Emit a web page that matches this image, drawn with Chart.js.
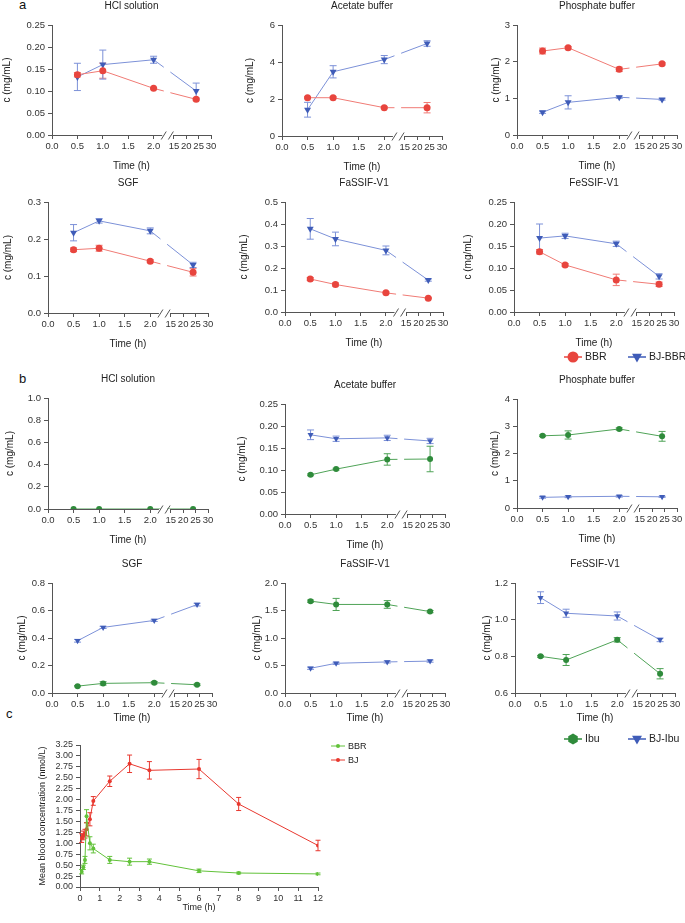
<!DOCTYPE html>
<html>
<head>
<meta charset="utf-8">
<script src="https://cdn.jsdelivr.net/npm/chart.js@4.4.1/dist/chart.umd.min.js"></script>
<style>
  body { margin: 0; background: #fff; width: 685px; height: 923px; position: relative; overflow: hidden;
         font-family: "Liberation Sans", Arial, sans-serif; }
  canvas { position: absolute; }
  .lab { position: absolute; font-size: 13px; color: #111; line-height: 13px; }
</style>
</head>
<body>
<div class="lab" style="left:19px;top:-2px">a</div>
<div class="lab" style="left:19px;top:372px">b</div>
<div class="lab" style="left:6px;top:707px">c</div>
<script>
// ---- shared x axis (broken axis: 0-2 h, then 15-30 h) ----
const hours = [0.5, 1, 2, 24];
const xTickHours = [0, 0.5, 1, 1.5, 2, 15, 20, 25, 30];
const xTickLabels = ["0.0", "0.5", "1.0", "1.5", "2.0", "15", "20", "25", "30"];

// ---- panel a : BBR vs BJ-BBR (mg/mL) ----
const aHclBBR = [0.137, 0.146, 0.106, 0.081];
const aHclBBRsd = [0.005, 0.017, 0.002, 0.003];
const aHclBJ = [0.132, 0.160, 0.171, 0.100];
const aHclBJsd = [0.031, 0.033, 0.008, 0.018];

const aAceBBR = [2.07, 2.07, 1.53, 1.53];
const aAceBBRsd = [0.05, 0.05, 0.05, 0.28];
const aAceBJ = [1.42, 3.47, 4.13, 5.00];
const aAceBJsd = [0.40, 0.33, 0.22, 0.15];

const aPhoBBR = [2.29, 2.38, 1.79, 1.94];
const aPhoBBRsd = [0.08, 0.03, 0.06, 0.03];
const aPhoBJ = [0.62, 0.89, 1.03, 0.97];
const aPhoBJsd = [0.03, 0.18, 0.03, 0.02];

const aSgfBBR = [0.171, 0.175, 0.140, 0.110];
const aSgfBBRsd = [0.005, 0.008, 0.004, 0.010];
const aSgfBJ = [0.217, 0.249, 0.222, 0.130];
const aSgfBJsd = [0.022, 0.006, 0.008, 0.007];

const aFasBBR = [0.150, 0.125, 0.087, 0.063];
const aFasBBRsd = [0.007, 0.007, 0.004, 0.003];
const aFasBJ = [0.378, 0.332, 0.280, 0.145];
const aFasBJsd = [0.047, 0.031, 0.020, 0.005];

const aFesBBR = [0.137, 0.107, 0.073, 0.063];
const aFesBBRsd = [0.005, 0.003, 0.013, 0.005];
const aFesBJ = [0.168, 0.173, 0.155, 0.081];
const aFesBJsd = [0.032, 0.006, 0.006, 0.006];

// ---- panel b : Ibu vs BJ-Ibu (mg/mL) ----
const bHclIbu = [0, 0, 0, 0];
const bHclIbusd = [0, 0, 0, 0];

const bAceIbu = [0.089, 0.102, 0.124, 0.125];
const bAceIbusd = [0.002, 0.002, 0.013, 0.029];
const bAceBJ = [0.180, 0.171, 0.173, 0.166];
const bAceBJsd = [0.011, 0.006, 0.006, 0.006];

const bPhoIbu = [2.65, 2.68, 2.90, 2.63];
const bPhoIbusd = [0.03, 0.15, 0.04, 0.18];
const bPhoBJ = [0.39, 0.41, 0.43, 0.41];
const bPhoBJsd = [0.03, 0.03, 0.03, 0.02];

const bSgfIbu = [0.050, 0.070, 0.075, 0.060];
const bSgfIbusd = [0.005, 0.012, 0.008, 0.006];
const bSgfBJ = [0.380, 0.477, 0.528, 0.643];
const bSgfBJsd = [0.010, 0.008, 0.008, 0.010];

const bFasIbu = [1.67, 1.61, 1.61, 1.48];
const bFasIbusd = [0.02, 0.11, 0.07, 0.02];
const bFasBJ = [0.45, 0.54, 0.565, 0.58];
const bFasBJsd = [0.02, 0.02, 0.02, 0.02];

const bFesIbu = [0.800, 0.780, 0.890, 0.705];
const bFesIbusd = [0.005, 0.030, 0.012, 0.028];
const bFesBJ = [1.120, 1.035, 1.020, 0.890];
const bFesBJsd = [0.032, 0.022, 0.022, 0.010];

// ---- panel c : mean blood concentration (nmol/L) ----
const cTimes = [0.083, 0.167, 0.25, 0.33, 0.5, 0.67, 1.5, 2.5, 3.5, 6, 8, 12];
const cBBR = [0.35, 0.45, 0.62, 1.62, 1.00, 0.88, 0.62, 0.58, 0.58, 0.37, 0.32, 0.30];
const cBBRsd = [0.05, 0.05, 0.08, 0.15, 0.15, 0.10, 0.08, 0.08, 0.06, 0.04, 0.02, 0.02];
const cBJ = [1.12, 1.18, 1.22, 1.32, 1.55, 1.97, 2.42, 2.82, 2.67, 2.70, 1.90, 0.95];
const cBJsd = [0.10, 0.10, 0.10, 0.15, 0.15, 0.10, 0.12, 0.20, 0.20, 0.22, 0.15, 0.12];
const cXTicks = [0, 1, 2, 3, 4, 5, 6, 7, 8, 9, 10, 11, 12];

const FONT = '"Liberation Sans", Arial, sans-serif';
const RED = "#e8453e", RED_L = "#f07b75";
const BLUE = "#3f5cb8", BLUE_L = "#7c91d8";
const GREEN = "#2f8b3b", GREEN_L = "#4fa357";
const C_GREEN = "#62c23a", C_RED = "#e8382f";

// broken axis: hours -> axis units
function xPos(t) {
  return t <= 2 ? t : 2.40 + (t - 15) * 0.0487;
}

function drawMarker(ctx, style, x, y, r, color) {
  ctx.save();
  ctx.fillStyle = color;
  ctx.beginPath();
  if (style === "hex") {
    for (let k = 0; k < 6; k++) {
      const a = Math.PI / 3 * k + Math.PI / 6;
      ctx.lineTo(x + r * Math.cos(a), y + r * Math.sin(a));
    }
  } else if (style === "triangle") {
    ctx.moveTo(x, y + r);
    ctx.lineTo(x - r * 0.9, y - r * 0.6);
    ctx.lineTo(x + r * 0.9, y - r * 0.6);
  } else {
    ctx.arc(x, y, r, 0, Math.PI * 2);
  }
  ctx.closePath();
  ctx.fill();
  ctx.restore();
}

Chart.register({
  id: "deco",
  beforeDatasetsDraw(chart) {
    const ctx = chart.ctx, xs = chart.scales.x, ys = chart.scales.y;
    chart.data.datasets.forEach(ds => {
      if (!ds.errs) return;
      ctx.save();
      ctx.strokeStyle = ds.errColor;
      ctx.lineWidth = 1;
      ds.data.forEach((p, j) => {
        const e = ds.errs[j];
        if (!e) return;
        const x = xs.getPixelForValue(p.x);
        const y1 = ys.getPixelForValue(p.y - e), y2 = ys.getPixelForValue(p.y + e);
        const c = ds.capW;
        ctx.beginPath();
        ctx.moveTo(x, y1); ctx.lineTo(x, y2);
        ctx.moveTo(x - c, y1); ctx.lineTo(x + c, y1);
        ctx.moveTo(x - c, y2); ctx.lineTo(x + c, y2);
        ctx.stroke();
      });
      ctx.restore();
    });
  },
  afterDatasetsDraw(chart) {
    const cfg = chart.canvas._cfg;
    if (!cfg.brk) return;
    const ctx = chart.ctx, xs = chart.scales.x, ca = chart.chartArea;
    const a = xs.getPixelForValue(2.2), b = xs.getPixelForValue(2.33);
    ctx.save();
    ctx.fillStyle = "#fff";
    ctx.fillRect(a, ca.top - 6, b - a, ca.bottom - ca.top + 12);
    // axis line with break marks
    const y = ca.bottom + 0.5;
    const s1 = xs.getPixelForValue(2.17), s2 = xs.getPixelForValue(2.33), e2 = xs.getPixelForValue(2.40);
    ctx.strokeStyle = "#555";
    ctx.lineWidth = 1;
    ctx.beginPath();
    ctx.moveTo(ca.left, y); ctx.lineTo(s1, y);
    ctx.moveTo(s1 - 1, y + 4); ctx.lineTo(s1 + 4, y - 4);
    ctx.moveTo(s2 - 2, y + 4); ctx.lineTo(s2 + 3, y - 4);
    ctx.moveTo(e2, y); ctx.lineTo(ca.right, y);
    ctx.stroke();
    ctx.restore();
  },
  afterDraw(chart) {
    const cfg = chart.canvas._cfg;
    const ctx = chart.ctx, ca = chart.chartArea;
    const cx = (ca.left + ca.right) / 2;
    ctx.save();
    ctx.fillStyle = "#222";
    ctx.textAlign = "center";
    ctx.textBaseline = "middle";
    ctx.font = cfg.fs + "px " + FONT;
    if (cfg.title) ctx.fillText(cfg.title, cx, ca.top - 18.5);
    ctx.fillText(cfg.xTitle, cx, ca.bottom + cfg.xtOff);
    ctx.save();
    ctx.translate(cfg.yTitleX - cfg.axisX + ca.left, (ca.top + ca.bottom) / 2);
    ctx.rotate(-Math.PI / 2);
    ctx.fillText(cfg.yTitle, 0, 0);
    ctx.restore();
    if (cfg.legend) {
      const lg = cfg.legend;
      ctx.textAlign = "left";
      ctx.font = lg.fs + "px " + FONT;
      lg.items.forEach((it, k) => {
        const x = it.x - cfg.axisX + ca.left;
        const y = lg.absY ? lg.y0 + k * lg.dy - cfg.top + ca.top : ca.bottom + lg.dy0;
        ctx.strokeStyle = it.line;
        ctx.lineWidth = lg.lw;
        ctx.beginPath();
        ctx.moveTo(x - lg.half, y); ctx.lineTo(x + lg.half, y);
        ctx.stroke();
        drawMarker(ctx, it.style, x, y, lg.r, it.color);
        ctx.fillStyle = "#222";
        ctx.fillText(it.label, x + lg.half + 3, y + 0.5);
      });
    }
    ctx.restore();
  }
});

function series(label, xs, vals, sd, style, color, line, r) {
  return {
    label: label,
    data: xs.map((t, i) => ({ x: t, y: vals[i] })),
    errs: sd,
    errColor: line,
    capW: 3.5,
    borderColor: line,
    borderWidth: 1,
    backgroundColor: color,
    pointBackgroundColor: color,
    pointBorderColor: color,
    pointBorderWidth: 0,
    pointStyle: style,
    pointRotation: style === "triangle" ? 180 : 0,
    pointRadius: r,
    tension: 0
  };
}

const hx = hours.map(xPos);
const bbr = (v, s) => series("BBR", hx, v, s, "circle", RED, RED_L, 3.5);
const bjbbr = (v, s) => series("BJ-BBR", hx, v, s, "triangle", BLUE, BLUE_L, 4);
const ibu = (v, s) => series("Ibu", hx, v, s, "circle", GREEN, GREEN_L, 3);
const bjibu = (v, s) => series("BJ-Ibu", hx, v, s, "triangle", BLUE, BLUE_L, 3.5);

function makePanel(c) {
  const yW = 52, padT = 28;
  const padR = c.padR || 12, xH = c.xH || 40, padB = c.padB || 0;
  const W = yW + c.plotW + padR, H = padT + (c.bottom - c.top) + xH + padB;
  const cv = document.createElement("canvas");
  cv.width = W; cv.height = H;
  cv.style.width = W + "px"; cv.style.height = H + "px";
  cv.style.left = (c.axisX - yW) + "px";
  cv.style.top = (c.top - padT) + "px";
  cv._cfg = c;
  document.body.appendChild(cv);
  const tickFont = { family: FONT, size: c.tfs };
  const nY = Math.round((c.yMax - c.yMin) / c.yStep);
  const chart = new Chart(cv, {
    type: "line",
    data: { datasets: c.series },
    options: {
      responsive: false,
      animation: false,
      devicePixelRatio: 1,
      layout: { padding: { top: padT, right: padR, bottom: padB, left: 0 } },
      plugins: { legend: { display: false }, tooltip: { enabled: false } },
      scales: {
        x: {
          type: "linear",
          min: c.xMin, max: c.xMax,
          afterBuildTicks: s => { s.ticks = c.xTicks.map(v => ({ value: v })); },
          afterFit: s => { s.height = xH; },
          ticks: { callback: (v, i) => c.xLabels[i], autoSkip: false, maxRotation: 0,
                   font: tickFont, color: "#333", padding: 2 },
          grid: { display: true, drawOnChartArea: false, drawTicks: true, tickLength: 4, color: "#555" },
          border: { display: !c.brk, color: "#555" }
        },
        y: {
          type: "linear",
          min: c.yMin, max: c.yMax,
          afterBuildTicks: s => {
            const t = [];
            for (let k = 0; k <= nY; k++) t.push({ value: +(c.yMin + k * c.yStep).toFixed(6) });
            s.ticks = t;
          },
          afterFit: s => { s.width = yW; },
          ticks: { callback: v => v.toFixed(c.dec), autoSkip: false, font: tickFont, color: "#333", padding: 3 },
          grid: { display: true, drawOnChartArea: false, drawTicks: true, tickLength: 4, color: "#555" },
          border: { display: true, color: "#555" }
        }
      }
    }
  });
  const ca = chart.chartArea;
  cv.style.left = (c.axisX - ca.left) + "px";
  cv.style.top = (c.top - ca.top) + "px";
  return chart;
}

function timePanel(p) {
  return Object.assign({
    plotW: 160, xMin: 0, xMax: 3.13, xTicks: xTickHours.map(xPos), xLabels: xTickLabels,
    brk: true, yMin: 0, tfs: 9.5, fs: 10, xTitle: "Time (h)", xtOff: 31, yTitle: "c (mg/mL)"
  }, p);
}

const panels = [
  // a, row 1
  { axisX: 52, top: 25, bottom: 135, plotW: 159, title: "HCl solution", yMax: 0.25, yStep: 0.05, dec: 2, yTitleX: 7,
    series: [bbr(aHclBBR, aHclBBRsd), bjbbr(aHclBJ, aHclBJsd)] },
  { axisX: 282, top: 25, bottom: 136, title: "Acetate buffer", yMax: 6, yStep: 2, dec: 0, yTitleX: 250,
    series: [bbr(aAceBBR, aAceBBRsd), bjbbr(aAceBJ, aAceBJsd)] },
  { axisX: 517, top: 25, bottom: 135, title: "Phosphate buffer", yMax: 3, yStep: 1, dec: 0, yTitleX: 496,
    series: [bbr(aPhoBBR, aPhoBBRsd), bjbbr(aPhoBJ, aPhoBJsd)] },
  // a, row 2
  { axisX: 48, top: 201.5, bottom: 312.5, title: "SGF", yMax: 0.3, yStep: 0.1, dec: 1, yTitleX: 8,
    series: [bbr(aSgfBBR, aSgfBBRsd), bjbbr(aSgfBJ, aSgfBJsd)] },
  { axisX: 285, top: 201.5, bottom: 312, plotW: 158, title: "FaSSIF-V1", yMax: 0.5, yStep: 0.1, dec: 1, yTitleX: 244,
    series: [bbr(aFasBBR, aFasBBRsd), bjbbr(aFasBJ, aFasBJsd)] },
  { axisX: 514, top: 201.5, bottom: 312, title: "FeSSIF-V1", yMax: 0.25, yStep: 0.05, dec: 2, yTitleX: 468,
    series: [bbr(aFesBBR, aFesBBRsd), bjbbr(aFesBJ, aFesBJsd)], padB: 30,
    legend: { fs: 10.5, r: 5.5, half: 9, lw: 1.5, dy0: 45,
      items: [{ label: "BBR", x: 573, style: "circle", color: RED, line: RED },
              { label: "BJ-BBR", x: 637, style: "triangle", color: BLUE, line: BLUE }] } },
  // b, row 1
  { axisX: 48, top: 398, bottom: 509, title: "HCl solution", yMax: 1, yStep: 0.2, dec: 1, yTitleX: 10,
    series: [ibu(bHclIbu, bHclIbusd)] },
  { axisX: 285, top: 404, bottom: 514, title: "Acetate buffer", yMax: 0.25, yStep: 0.05, dec: 2, yTitleX: 242,
    series: [ibu(bAceIbu, bAceIbusd), bjibu(bAceBJ, bAceBJsd)] },
  { axisX: 517, top: 399, bottom: 508, title: "Phosphate buffer", yMax: 4, yStep: 1, dec: 0, yTitleX: 495,
    series: [ibu(bPhoIbu, bPhoIbusd), bjibu(bPhoBJ, bPhoBJsd)] },
  // b, row 2
  { axisX: 52, top: 583, bottom: 693, title: "SGF", yMax: 0.8, yStep: 0.2, dec: 1, yTitleX: 22, xtOff: 25,
    series: [ibu(bSgfIbu, bSgfIbusd), bjibu(bSgfBJ, bSgfBJsd)] },
  { axisX: 285, top: 583, bottom: 693, title: "FaSSIF-V1", yMax: 2, yStep: 0.5, dec: 1, yTitleX: 257, xtOff: 25,
    series: [ibu(bFasIbu, bFasIbusd), bjibu(bFasBJ, bFasBJsd)] },
  { axisX: 515, top: 583, bottom: 693, title: "FeSSIF-V1", yMin: 0.6, yMax: 1.2, yStep: 0.2, dec: 1, yTitleX: 487, xtOff: 25,
    series: [ibu(bFesIbu, bFesIbusd), bjibu(bFesBJ, bFesBJsd)], padB: 30,
    legend: { fs: 10.5, r: 5.5, half: 9, lw: 1.5, dy0: 46,
      items: [{ label: "Ibu", x: 573, style: "hex", color: GREEN, line: GREEN },
              { label: "BJ-Ibu", x: 637, style: "triangle", color: BLUE, line: BLUE }] } }
].map(timePanel);

panels.forEach(makePanel);

// c : pharmacokinetics
const cSeries = [
  series("BBR", cTimes, cBBR, cBBRsd, "circle", C_GREEN, C_GREEN, 2),
  series("BJ", cTimes, cBJ, cBJsd, "circle", C_RED, C_RED, 2)
];
cSeries.forEach(s => { s.capW = 2.5; });
makePanel({
  axisX: 80, top: 745, bottom: 887, plotW: 238, padR: 70, xMin: 0, xMax: 12, xTicks: cXTicks,
  xLabels: cXTicks.map(String), brk: false, yMin: 0, yMax: 3.25, yStep: 0.25, dec: 2,
  tfs: 9, fs: 9, xTitle: "Time (h)", xtOff: 21, xH: 30, yTitle: "Mean blood concentration (nmol/L)", yTitleX: 43,
  series: cSeries,
  legend: { fs: 9, r: 2, half: 7, lw: 1, absY: true, y0: 746, dy: 14,
    items: [{ label: "BBR", x: 338, style: "circle", color: C_GREEN, line: C_GREEN },
            { label: "BJ", x: 338, style: "circle", color: C_RED, line: C_RED }] }
});
</script>
</body>
</html>
